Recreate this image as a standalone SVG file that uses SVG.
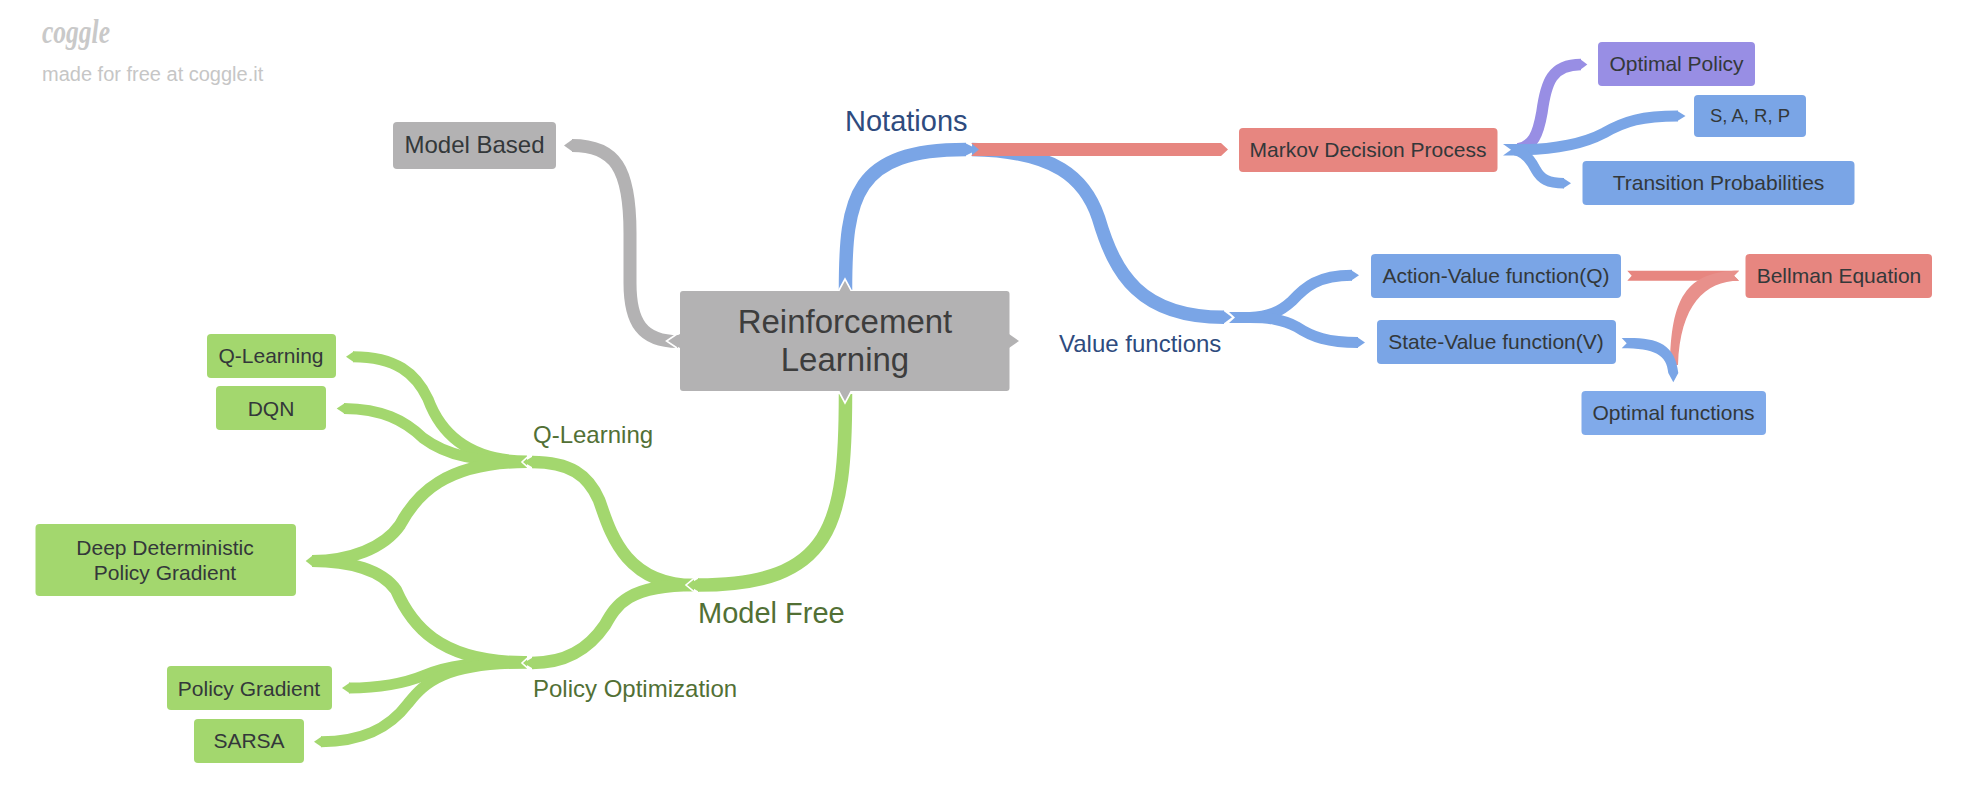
<svg xmlns="http://www.w3.org/2000/svg" width="1970" height="811" viewBox="0 0 1970 811">
<style>
text{font-family:"Liberation Sans",Arial,sans-serif}
.g,.b,.k,.p{fill:none;stroke-linecap:butt}
.g{stroke:#a3d76e}.b{stroke:#7aa5e6}.k{stroke:#b3b2b3}.p{stroke:#988ee4}
.fg{fill:#a3d76e}.fb{fill:#7aa5e6}.fr{fill:#e78680}.frl{fill:#e8908b}.fk{fill:#b3b2b3}.fp{fill:#988ee4}.fo{fill:#80aaea}
.ch{fill:none;stroke:#fff;stroke-width:1.600}
.n{fill:#33383a;text-anchor:middle}
.lg{fill:#527035}.lb{fill:#2e4b7e}
</style>
<rect width="1970" height="811" fill="#fff"/>
<g id="watermark">
<text x="42" y="43" font-size="34" font-style="italic" font-weight="bold" textLength="68" lengthAdjust="spacingAndGlyphs" fill="#c9c9c9" style="font-family:'Liberation Serif',serif">coggle</text>
<text x="42" y="81" font-size="20" fill="#c6c6c6">made for free at coggle.it</text>
</g>
<g id="connectors">
<path class="k" stroke-width="13" d="M572 145.500C615 145.500 630 168 630 233L630 283C630 322 642 341.500 678 341.500"/>
<polygon class="fk" points="573,139 564,145.500 573,152"/>
<path class="b" stroke-width="13.500" d="M845.500 290C845.500 197 854 149.500 966 149.500"/>
<polygon class="fb" points="965,143 978,149.500 965,156"/>
<path class="ch" d="M971 143L979 149.500L971 156"/>
<path class="b" stroke-width="13.500" d="M972 149.500C1055 151 1085 178 1098.500 218C1115 274 1140 317.300 1224 317.300"/>
<polygon class="fb" points="1223,310.500 1232,317.300 1223,324"/>
<polygon class="fr" points="971,143 1221,143 1228,149.500 1221,156 971,156 979,149.500"/>
<path class="ch" d="M1227 311L1233.500 317.300L1227 323.800"/>
<polygon class="fb" points="1229,312 1272,312 1272,323 1229,323 1235,317.500"/>
<path class="b" stroke-width="11" d="M1250 317.500C1268 317 1280 312 1292 301C1305 287 1318 275.300 1352 275.300"/>
<polygon class="fb" points="1351,270 1359,275.300 1351,280.700"/>
<path class="b" stroke-width="11" d="M1250 317.500C1268 317.500 1282 319 1297 327C1312 337 1328 342.500 1358 342.500"/>
<polygon class="fb" points="1357,337 1365,342.500 1357,348"/>
<polygon class="fr" points="1627.300,270.700 1739,270.700 1734,275.700 1739,280.700 1627.300,280.700 1631.700,275.700"/>
<path class="frl" d="M1739 270.700L1734 275.700L1739 280.700C1705 281 1680 305 1678 365L1670 365C1671 300 1685 271 1739 270.700Z"/>
<path class="fb" d="M1621.700 338C1655 337 1675 342 1678.300 373L1673.300 382.300L1668.300 373C1667 355 1655 348.300 1621.700 348.300L1626.700 343.300Z"/>
<path class="p" stroke-width="11.500" d="M1518 149C1533 146 1538 135 1542 112C1546 82 1552 64.500 1581 64.500"/>
<polygon class="fp" points="1580,59 1587.300,64.500 1580,70"/>
<polygon class="fb" points="1503,144 1532,144 1532,155.500 1503,155.500 1511,149.700"/>
<path class="b" stroke-width="11" d="M1520 149.700C1555 149.700 1585 143 1604 133C1625 121 1642 116 1678 116"/>
<polygon class="fb" points="1677,110.700 1685.500,116 1677,121.300"/>
<path class="b" stroke-width="10.500" d="M1515 150C1525 152 1531 160 1536 170C1541 179 1548 183.300 1564 183.300"/>
<polygon class="fb" points="1563,178 1571,183.300 1563,188.500"/>
<path class="g" stroke-width="13.500" d="M845.500 394C845.500 525 832.500 585 698 585"/>
<polygon class="fg" points="660,579 692,579 692,591 660,591"/>
<path class="g" stroke-width="12.500" d="M532 462C570 462 588 475 599 500C609 527 622 585 694 585"/>
<path class="g" stroke-width="12.500" d="M532 663C565 663 588 650 605 625C616 605 628 585 694 585"/>
<polygon class="fg" points="699,578.300 687.500,585 699,591.700"/>
<path class="ch" d="M694 578.300L686 585L694 591.700"/>
<path class="g" stroke-width="11" d="M353 356.700C396 356.700 416 373.500 428 399C442 437 472 461 527 461"/>
<polygon class="fg" points="354,351.200 346,356.700 354,362.200"/>
<path class="g" stroke-width="11" d="M344 408.500C382 409 404 420 423 438C447 456 478 462 527 462"/>
<polygon class="fg" points="345,403 336.700,408.500 345,414"/>
<path class="g" stroke-width="12" d="M312 561C350 561 384 548 400 525C416 495 445 462 527 462"/>
<path class="g" stroke-width="12" d="M312 561C350 561 382 570 396 590C410 622 437 663 527 662"/>
<polygon class="fg" points="313.300,555 305.700,561 313.300,567"/>
<path class="g" stroke-width="11" d="M349 688C385 688 408 682 425 675C447 666 470 662 527 662"/>
<polygon class="fg" points="350,682.500 342,688 350,693.500"/>
<path class="g" stroke-width="11" d="M321 741.700C360 741.700 388 730 408 703.500C425 682 445 663 527 663"/>
<polygon class="fg" points="322,736.200 314,741.700 322,747.200"/>
<polygon class="fg" points="480,456.500 527,456.500 527,467.500 480,467.500"/>
<polygon class="fg" points="480,657 527,657 527,668.500 480,668.500"/>
<polygon class="fg" points="534,455.700 523.500,462 534,468.300"/>
<path class="ch" d="M529 455.700L522 462L529 468.300"/>
<polygon class="fg" points="534,656.700 523.500,663 534,669.300"/>
<path class="ch" d="M529 656.700L522 663L529 669.300"/>
</g>
<g id="node-center">
<polygon class="fk" points="680,334 667,341 680,348"/>
<polygon class="fk" points="1009,334 1019,341 1009,348"/>
<polygon class="fk" stroke="#fff" stroke-width="1.600" points="838,292 845,279 852,292"/>
<polygon class="fk" stroke="#fff" stroke-width="1.600" points="838,390 845,403 852,390"/>
<path class="ch" d="M677 334L666.500 341L677 348"/>
<rect x="680" y="291" width="329.500" height="100" rx="3" class="fk"/>
<text class="n" font-size="33" style="fill:#3d3d3d"><tspan x="845" y="333">Reinforcement</tspan><tspan x="845" y="371">Learning</tspan></text>
</g>
<g id="node-model-based"><rect x="393" y="122" width="163" height="47" rx="4" class="fk"/><text class="n" x="474.500" y="153" font-size="24">Model Based</text></g>
<g id="node-notations"><text class="lb" x="845" y="131" font-size="29">Notations</text></g>
<g id="node-value-functions"><text class="lb" x="1059" y="352" font-size="24">Value functions</text></g>
<g id="node-model-free"><text class="lg" x="698" y="623" font-size="29">Model Free</text></g>
<g id="node-q-learning-label"><text class="lg" x="533" y="443" font-size="24">Q-Learning</text></g>
<g id="node-policy-optimization"><text class="lg" x="533" y="697" font-size="24">Policy Optimization</text></g>
<g id="node-q-learning"><rect x="207" y="334" width="129" height="44" rx="4" class="fg"/><text class="n" x="271" y="363" font-size="21">Q-Learning</text></g>
<g id="node-dqn"><rect x="216" y="386" width="110" height="44" rx="4" class="fg"/><text class="n" x="271" y="416" font-size="21">DQN</text></g>
<g id="node-ddpg"><rect x="35.500" y="524" width="260.500" height="72" rx="4" class="fg"/><text class="n" font-size="21"><tspan x="165" y="555">Deep Deterministic</tspan><tspan x="165" y="580">Policy Gradient</tspan></text></g>
<g id="node-policy-gradient"><rect x="167" y="666" width="165" height="44" rx="4" class="fg"/><text class="n" x="249" y="696" font-size="21">Policy Gradient</text></g>
<g id="node-sarsa"><rect x="194" y="719" width="110" height="44" rx="4" class="fg"/><text class="n" x="249" y="748" font-size="21">SARSA</text></g>
<g id="node-mdp"><rect x="1239" y="128" width="258.500" height="44" rx="4" class="fr"/><text class="n" x="1368" y="157" font-size="21">Markov Decision Process</text></g>
<g id="node-optimal-policy"><rect x="1598" y="42" width="157" height="44" rx="4" class="fp"/><text class="n" x="1676.500" y="71" font-size="21">Optimal Policy</text></g>
<g id="node-sarp"><rect x="1694" y="95" width="112" height="42" rx="4" class="fb"/><text class="n" x="1750" y="122" font-size="18.500">S, A, R, P</text></g>
<g id="node-transition"><rect x="1582.500" y="161" width="272" height="44" rx="4" class="fb"/><text class="n" x="1718.500" y="190" font-size="21">Transition Probabilities</text></g>
<g id="node-action-value"><rect x="1371" y="254" width="250" height="44" rx="4" class="fb"/><text class="n" x="1496" y="283" font-size="21">Action-Value function(Q)</text></g>
<g id="node-state-value"><rect x="1377" y="320" width="239" height="44" rx="4" class="fb"/><text class="n" x="1496" y="349" font-size="21">State-Value function(V)</text></g>
<g id="node-bellman"><rect x="1745.500" y="254" width="186.500" height="44" rx="4" class="fr"/><text class="n" x="1839" y="283" font-size="21">Bellman Equation</text></g>
<g id="node-optimal-functions"><rect x="1581.500" y="391" width="184.500" height="44" rx="4" class="fo"/><text class="n" x="1673.500" y="420" font-size="21">Optimal functions</text></g>
</svg>
